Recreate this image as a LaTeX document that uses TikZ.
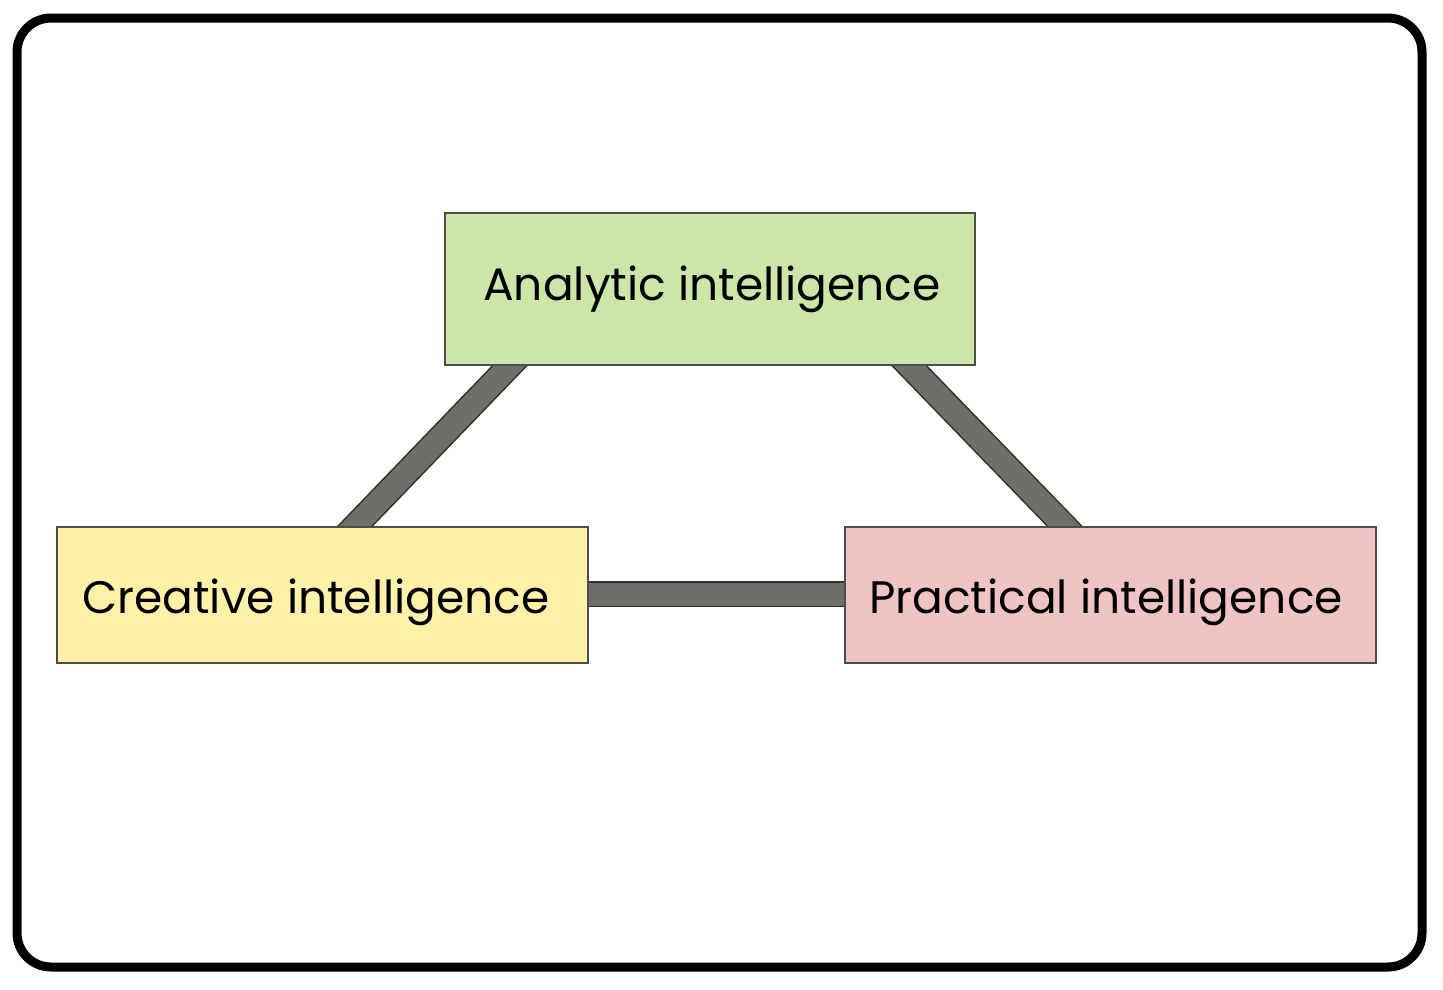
\documentclass[tikz,border=0pt]{standalone}
\usepackage{fontspec}
\setmainfont{Poppins}
\usetikzlibrary{calc}
\pgfdeclarelayer{background}
\pgfsetlayers{background,main}
\definecolor{boxgreen}{HTML}{CCE6A8}
\definecolor{boxyellow}{HTML}{FFF2A8}
\definecolor{boxpink}{HTML}{F0C4C4}
\definecolor{linkgrey}{HTML}{6E6E6A}
\definecolor{linkedge}{HTML}{2E2E2C}
\definecolor{boxedge}{HTML}{4D4D4B}
\begin{document}
\begin{tikzpicture}[x=1pt,y=-1pt,
  box/.style={draw=boxedge, line width=1.5pt, rectangle, inner sep=0pt,
    minimum width=531pt, font=\fontsize{45.5}{54}\selectfont},
  linkouter/.style={draw=linkedge, line width=26pt, shorten <=-25pt, shorten >=-25pt},
  linkinner/.style={draw=linkgrey, line width=23pt, shorten <=-26pt, shorten >=-26pt}]
\useasboundingbox (0,0) rectangle (1443,989);
\node[draw=black, line width=9pt, rounded corners=34pt, minimum width=1405pt,
  minimum height=949pt, inner sep=0pt] (frame) at (719.5,492.5) {};
\node[box, fill=boxgreen, minimum width=530pt, minimum height=152pt] (an) at (710,289) {};
\node[box, fill=boxyellow, minimum height=136pt] (cr) at (322.5,595) {};
\node[box, fill=boxpink, minimum height=136pt] (pr) at (1110.5,595) {};
\node[font=\fontsize{45.5}{54}\selectfont, inner sep=0pt, anchor=base] (ant) at (712,300) {Analytic intelligence};
\node[font=\fontsize{45.5}{54}\selectfont, inner sep=0pt, anchor=base] (crt) at (316,613) {Creative intelligence};
\node[font=\fontsize{45.5}{54}\selectfont, inner sep=0pt, anchor=base] (prt) at (1106,613) {Practical intelligence};
\begin{pgfonlayer}{background}
\coordinate (l1) at ($(an.south west)!0.123!(an.south east)$);
\coordinate (l2) at ($(cr.north west)!0.561!(cr.north east)$);
\coordinate (r1) at ($(an.south west)!0.875!(an.south east)$);
\coordinate (r2) at ($(pr.north west)!0.414!(pr.north east)$);
\coordinate (h1) at ($(cr.east)+(0,-1)$);
\coordinate (h2) at ($(pr.west)+(0,-1)$);
\foreach \a/\b in {l1/l2, r1/r2, h1/h2}{
  \draw[linkouter] (\a) -- (\b);
  \draw[linkinner] (\a) -- (\b);
}
\end{pgfonlayer}
\end{tikzpicture}
\end{document}
